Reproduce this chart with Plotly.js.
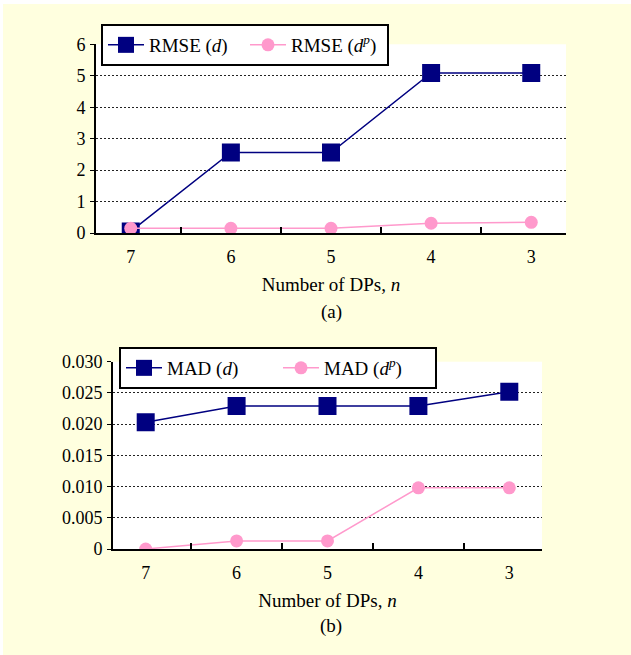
<!DOCTYPE html>
<html><head><meta charset="utf-8">
<script src="https://cdn.plot.ly/plotly-3.0.1.min.js"></script>
<style>html,body{margin:0;padding:0;background:#fff}#chart{width:631px;height:655px}</style>
</head><body><div id="chart"></div>
<script>
const dps = ["7", "6", "5", "4", "3"];
const rmseD = [0.05, 2.56, 2.56, 5.09, 5.09];
const rmseDp = [0.15, 0.15, 0.15, 0.31, 0.34];
const madD = [0.0203, 0.0229, 0.0229, 0.0229, 0.0252];
const madDp = [0.0, 0.0013, 0.0013, 0.0098, 0.0098];
const rmseTicks = [0, 1, 2, 3, 4, 5, 6];
const rmseTickText = ["0", "1", "2", "3", "4", "5", "6"];
const madTicks = [0, 0.005, 0.010, 0.015, 0.020, 0.025, 0.030];
const madTickText = ["0", "0.005", "0.010", "0.015", "0.020", "0.025", "0.030"];

const W = 631, H = 655;
const NAVY = "#000080", PINK = "#FF99CC", BG = "#FFFFDF";
const FAM = "Liberation Serif, Times New Roman, serif";
const FONT = {family: FAM, size: 19, color: "#000"};
const TICKFONT = {family: FAM, size: 18, color: "#000"};
const px = v => v / W, py = v => 1 - v / H;

const traces = [
  {x: dps, y: rmseD, name: "RMSE (<i>d</i>)", type: "scatter", mode: "lines+markers",
   xaxis: "x", yaxis: "y", legend: "legend",
   line: {color: NAVY, width: 1.5}, marker: {symbol: "square", size: 18, color: NAVY}},
  {x: dps, y: rmseDp, name: "RMSE (<i>d</i><sup><i>p</i></sup>)", type: "scatter", mode: "lines+markers",
   xaxis: "x", yaxis: "y", legend: "legend",
   line: {color: PINK, width: 1.5}, marker: {symbol: "circle", size: 13, color: PINK}},
  {x: dps, y: madD, name: "MAD (<i>d</i>)", type: "scatter", mode: "lines+markers",
   xaxis: "x2", yaxis: "y2", legend: "legend2",
   line: {color: NAVY, width: 1.5}, marker: {symbol: "square", size: 18, color: NAVY}},
  {x: dps, y: madDp, name: "MAD (<i>d</i><sup><i>p</i></sup>)", type: "scatter", mode: "lines+markers",
   xaxis: "x2", yaxis: "y2", legend: "legend2",
   line: {color: PINK, width: 1.5}, marker: {symbol: "circle", size: 13, color: PINK}}
];

const xCommon = {
  type: "category", tickson: "boundaries", ticks: "inside", ticklen: 6, tickwidth: 1.5, tickcolor: "#000",
  showline: true, linecolor: "#000", linewidth: 2, showgrid: false, zeroline: false,
  tickfont: TICKFONT, ticklabelstandoff: 6, fixedrange: true
};
const yCommon = {
  ticks: "outside", ticklen: 4, tickwidth: 1, tickcolor: "#000",
  showline: true, linecolor: "#000", linewidth: 2, showgrid: true, gridcolor: "#222",
  griddash: "2px,2px", gridwidth: 1, zeroline: false, tickfont: TICKFONT, ticklabelstandoff: 1, fixedrange: true,
  tickmode: "array"
};

const layout = {
  width: W, height: H, margin: {l: 0, r: 0, t: 0, b: 0},
  paper_bgcolor: BG, plot_bgcolor: "#FFFFFF", font: FONT, showlegend: true,
  xaxis: Object.assign({}, xCommon, {domain: [px(96), px(566)], anchor: "y",
    title: {text: "Number of DPs, <i>n</i>", font: FONT, standoff: 12}}),
  yaxis: Object.assign({}, yCommon, {domain: [py(233), py(44.3)], anchor: "x", range: [0, 6],
    tickvals: rmseTicks, ticktext: rmseTickText}),
  xaxis2: Object.assign({}, xCommon, {domain: [px(113), px(542)], anchor: "y2",
    title: {text: "Number of DPs, <i>n</i>", font: FONT, standoff: 12}}),
  yaxis2: Object.assign({}, yCommon, {domain: [py(549), py(361.7)], anchor: "x2", range: [0, 0.030],
    tickvals: madTicks, ticktext: madTickText}),
  legend: {orientation: "h", x: px(101), y: py(24), xanchor: "left", yanchor: "top",
    bgcolor: "#FFFFFF", bordercolor: "#000", borderwidth: 2, font: FONT, itemwidth: 36,
    entrywidth: 91, traceorder: "normal"},
  legend2: {orientation: "h", x: px(119), y: py(347), xanchor: "left", yanchor: "top",
    bgcolor: "#FFFFFF", bordercolor: "#000", borderwidth: 2, font: FONT, itemwidth: 36,
    entrywidth: 106, traceorder: "normal"},
  annotations: [
    {text: "(a)", xref: "paper", yref: "paper", x: px(331), y: py(312), xanchor: "center", yanchor: "middle",
     showarrow: false, font: FONT},
    {text: "(b)", xref: "paper", yref: "paper", x: px(331), y: py(626), xanchor: "center", yanchor: "middle",
     showarrow: false, font: FONT}
  ],
  shapes: [
    {type: "rect", xref: "paper", yref: "paper", x0: 0, x1: 1, y0: py(4), y1: 1,
     fillcolor: "#FFFFFF", line: {width: 0}, layer: "below"},
    {type: "rect", xref: "paper", yref: "paper", x0: 0, x1: px(3), y0: 0, y1: 1,
     fillcolor: "#FFFFFF", line: {width: 0}, layer: "below"}
  ]
};

Plotly.newPlot("chart", traces, layout, {displayModeBar: false, staticPlot: true});
</script>
</body></html>
